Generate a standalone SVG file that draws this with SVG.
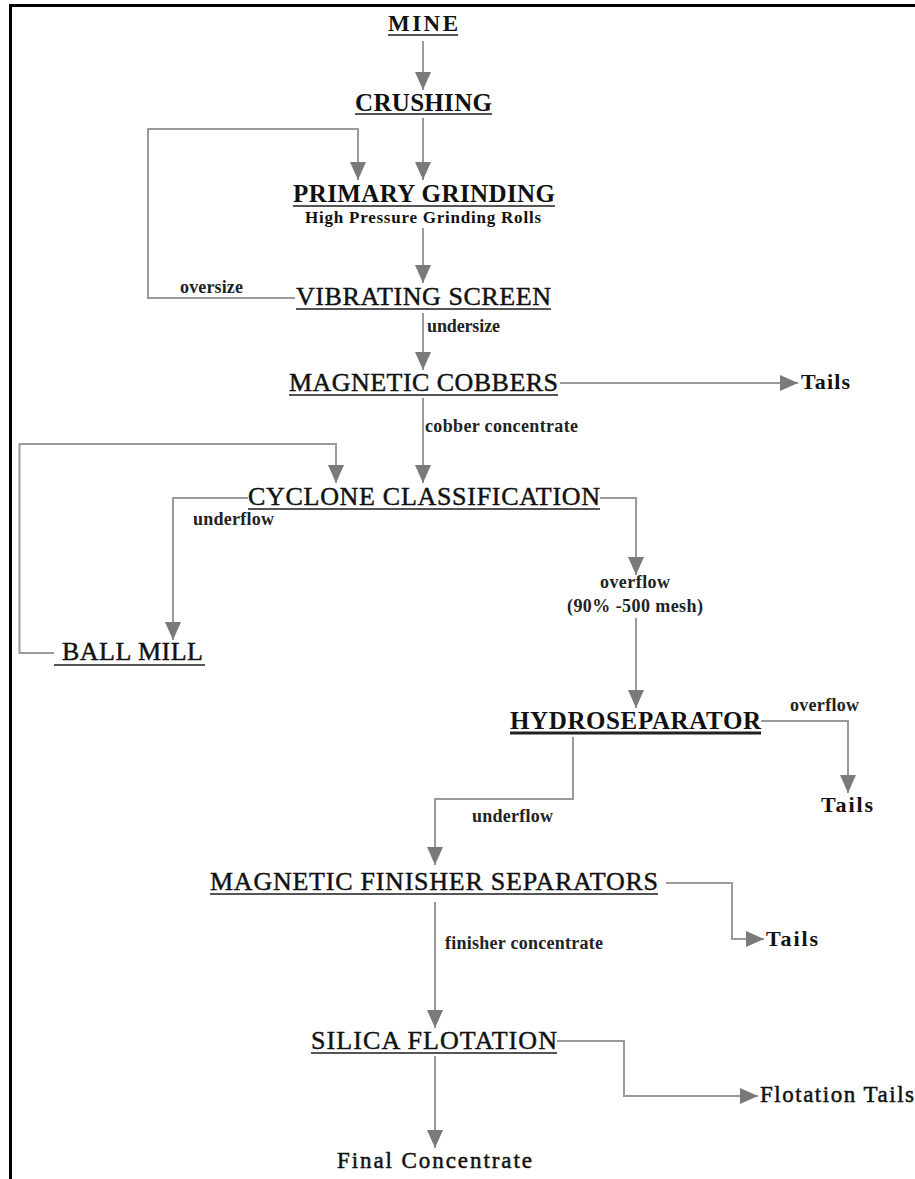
<svg xmlns="http://www.w3.org/2000/svg" width="915" height="1179" viewBox="0 0 915 1179">
<style>
text{font-family:"Liberation Serif","Times New Roman",serif;fill:#111;}
.h{font-size:25px;}
.r{font-size:26px;stroke:#111;stroke-width:0.45px;}
.b{font-weight:bold;}
.lbl{font-size:18px;font-weight:bold;fill:#222;}
.tl{font-size:22px;font-weight:bold;}
.tn{font-size:23px;stroke:#111;stroke-width:0.5px;}
.ul{stroke:#555;stroke-width:2;fill:none;}
.c{stroke:#9a9a9a;stroke-width:2;fill:none;marker-end:url(#ah);}
</style>
<defs>
<marker id="ah" markerUnits="userSpaceOnUse" markerWidth="18" markerHeight="16" viewBox="0 0 18 16" refX="18" refY="8" orient="auto">
<path d="M0,0 L18,8 L0,16 z" fill="#7a7a7a"/>
</marker>
</defs>
<rect width="915" height="1179" fill="#fff"/>
<path d="M10.5,1179 V5.5 H915" stroke="#000" stroke-width="3" fill="none"/>

<g id="connectors">
<path class="c" d="M423,41 V90"/>
<path class="c" d="M423,118 V180"/>
<path class="c" d="M295,298 H148 V129 H358 V180"/>
<path class="c" d="M423,228 V283"/>
<path class="c" d="M423,313 V370"/>
<path class="c" d="M560,383 H798"/>
<path class="c" d="M423,398 V483"/>
<path class="c" d="M54,653 H19.5 V444 H336 V483"/>
<path class="c" d="M248,498 H173 V640"/>
<path class="c" d="M600,498 H636 V575"/>
<path class="c" d="M636,618 V708"/>
<path class="c" d="M761,721 H848 V793"/>
<path class="c" d="M573,737 V799 H435 V865"/>
<path class="c" d="M666,883 H732 V939 H764"/>
<path class="c" d="M435,902 V1028"/>
<path class="c" d="M557,1041 H624 V1096 H758"/>
<path class="c" d="M435,1056 V1148"/>
</g>

<g id="edge-labels">
<text class="lbl" x="180" y="293" textLength="63" lengthAdjust="spacing">oversize</text>
<text class="lbl" x="427" y="332" textLength="73" lengthAdjust="spacing">undersize</text>
<text class="lbl" x="425" y="432" textLength="153" lengthAdjust="spacing">cobber concentrate</text>
<text class="lbl" x="193" y="525" textLength="81" lengthAdjust="spacing">underflow</text>
<text class="lbl" x="600" y="588" textLength="70" lengthAdjust="spacing">overflow</text>
<text class="lbl" x="567" y="612" textLength="136" lengthAdjust="spacing">(90% -500 mesh)</text>
<text class="lbl" x="790" y="711" textLength="69" lengthAdjust="spacing">overflow</text>
<text class="lbl" x="472" y="822" textLength="81" lengthAdjust="spacing">underflow</text>
<text class="lbl" x="445" y="949" textLength="158" lengthAdjust="spacing">finisher concentrate</text>
</g>

<g id="mine">
<text class="b" x="388" y="31" font-size="23" textLength="70" lengthAdjust="spacing">MINE</text>
<line class="ul" x1="388" y1="35" x2="458" y2="35"/>
</g>
<g id="crushing">
<text class="h b" x="355" y="111" textLength="137" lengthAdjust="spacing">CRUSHING</text>
<line class="ul" x1="355" y1="114" x2="492" y2="114"/>
</g>
<g id="primary-grinding">
<text class="h b" x="293" y="202" textLength="262" lengthAdjust="spacing">PRIMARY GRINDING</text>
<line class="ul" x1="293" y1="206" x2="555" y2="206"/>
<text class="b" x="305" y="223" font-size="17" textLength="236" lengthAdjust="spacing">High Pressure Grinding Rolls</text>
</g>
<g id="vibrating-screen">
<text class="r" x="296" y="305" textLength="255" lengthAdjust="spacing">VIBRATING SCREEN</text>
<line class="ul" x1="296" y1="309" x2="551" y2="309"/>
</g>
<g id="magnetic-cobbers">
<text class="r" x="289" y="391" textLength="269" lengthAdjust="spacing">MAGNETIC COBBERS</text>
<line class="ul" x1="289" y1="395" x2="558" y2="395"/>
</g>
<g id="tails-1">
<text class="tl" x="801" y="389" textLength="49" lengthAdjust="spacing">Tails</text>
</g>
<g id="cyclone-classification">
<text class="r" x="248" y="505" textLength="352" lengthAdjust="spacing">CYCLONE CLASSIFICATION</text>
<line class="ul" x1="248" y1="509" x2="600" y2="509"/>
</g>
<g id="ball-mill">
<text class="r" x="62" y="660" textLength="141" lengthAdjust="spacing">BALL MILL</text>
<line class="ul" x1="54" y1="665" x2="205" y2="665"/>
</g>
<g id="hydroseparator">
<text class="h b" x="510" y="729" textLength="251" lengthAdjust="spacing">HYDROSEPARATOR</text>
<line x1="510" y1="733" x2="761" y2="733" stroke="#222" stroke-width="3"/>
</g>
<g id="tails-2">
<text class="tl" x="821" y="812" textLength="52" lengthAdjust="spacing">Tails</text>
</g>
<g id="magnetic-finisher-separators">
<text class="r" x="210" y="890" textLength="448" lengthAdjust="spacing">MAGNETIC FINISHER SEPARATORS</text>
<line class="ul" x1="210" y1="894" x2="658" y2="894"/>
</g>
<g id="tails-3">
<text class="tl" x="766" y="946" textLength="52" lengthAdjust="spacing">Tails</text>
</g>
<g id="silica-flotation">
<text class="r" x="311" y="1049" textLength="246" lengthAdjust="spacing">SILICA FLOTATION</text>
<line class="ul" x1="311" y1="1053" x2="557" y2="1053"/>
</g>
<g id="flotation-tails">
<text class="tn" x="760" y="1102" textLength="154" lengthAdjust="spacing">Flotation Tails</text>
</g>
<g id="final-concentrate">
<text class="tn" x="337" y="1168" textLength="195" lengthAdjust="spacing">Final Concentrate</text>
</g>
</svg>
